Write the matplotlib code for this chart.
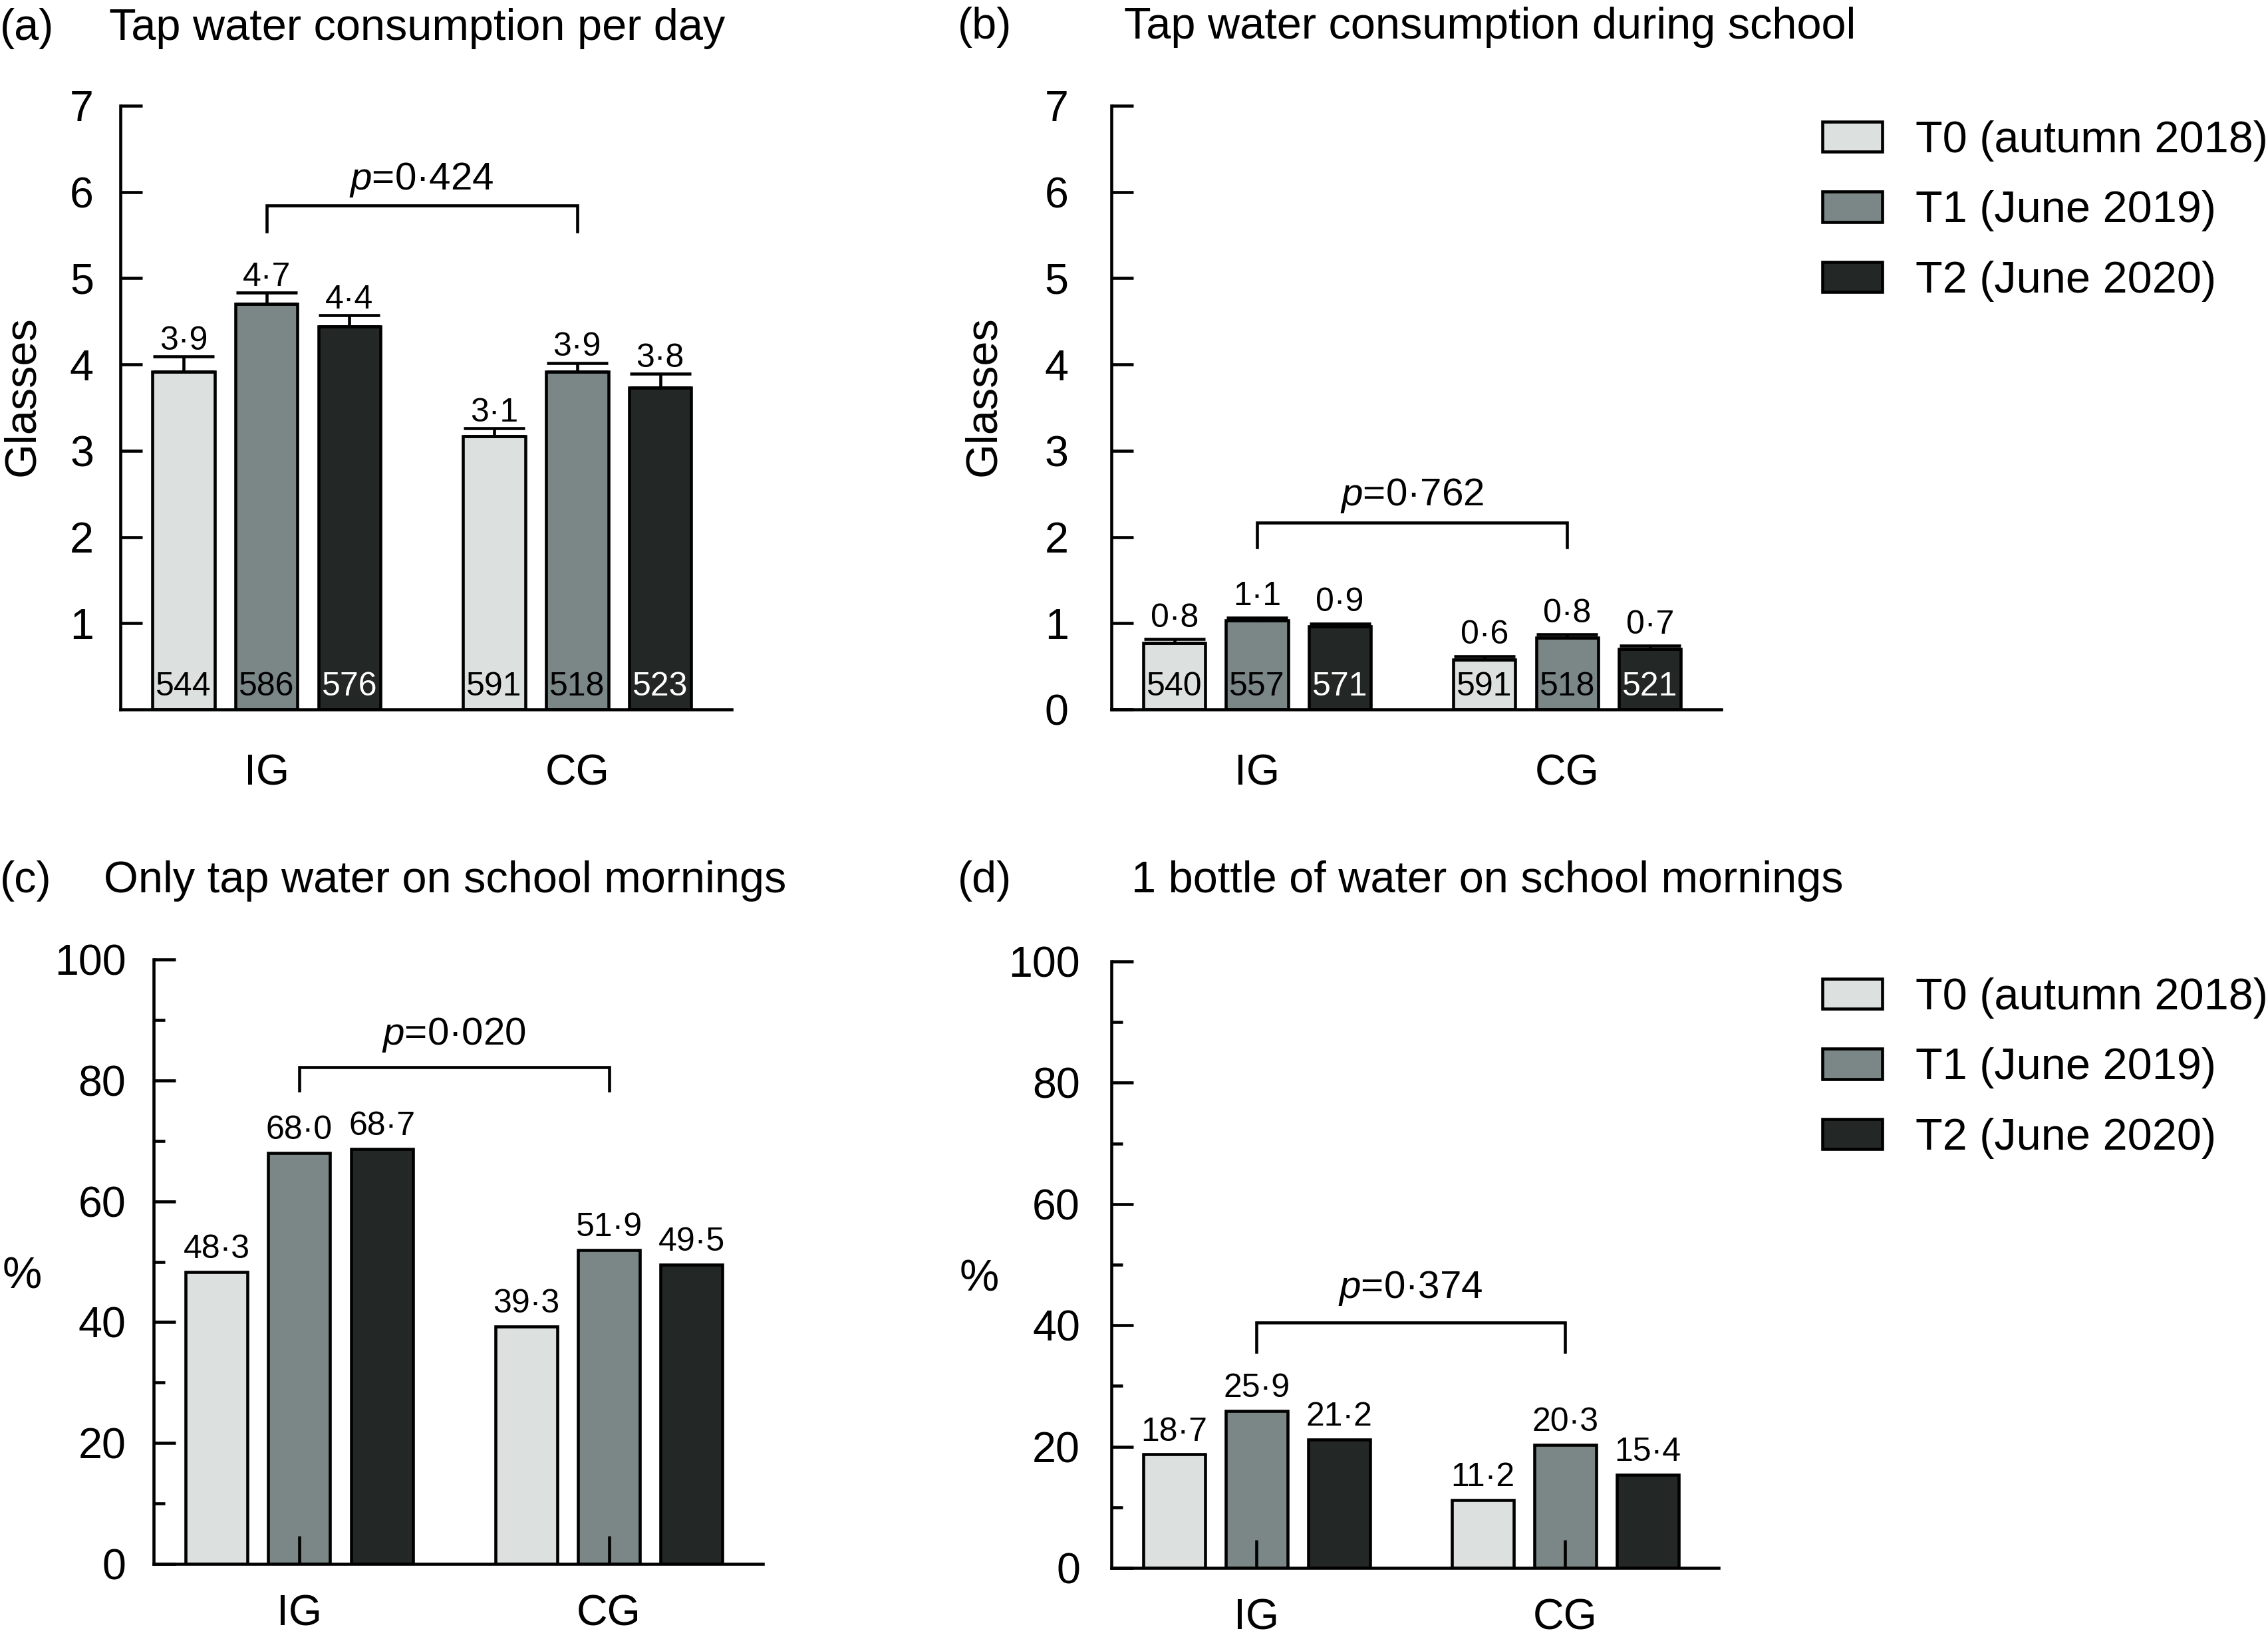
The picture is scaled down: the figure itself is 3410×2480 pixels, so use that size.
import matplotlib.pyplot as plt
import numpy as np
from matplotlib.patches import Patch

plt.rcParams['font.family'] = ['Liberation Sans', 'DejaVu Sans']
plt.rcParams['mathtext.fontset'] = 'custom'
plt.rcParams['mathtext.rm'] = 'Liberation Sans'
plt.rcParams['mathtext.it'] = 'Liberation Sans:italic'

GROUPS = ["IG", "CG"]
WAVES = ["T0 (autumn 2018)", "T1 (June 2019)", "T2 (June 2020)"]
COLORS = ["#dce1e0", "#7a8786", "#232827"]
COUNT_COLORS = ["black", "black", "white"]

# rows = wave (T0, T1, T2), columns = group (IG, CG)
DAY_MEAN = [[3.92, 3.17], [4.70, 3.92], [4.44, 3.73]]
DAY_ERR = [[0.17, 0.09], [0.13, 0.10], [0.13, 0.16]]
DAY_LABELS = [["3·9", "3·1"], ["4·7", "3·9"], ["4·4", "3·8"]]
DAY_N = [[544, 591], [586, 518], [576, 523]]

SCHOOL_MEAN = [[0.77, 0.58], [1.03, 0.83], [0.96, 0.70]]
SCHOOL_ERR = [[0.045, 0.038], [0.033, 0.039], [0.034, 0.038]]
SCHOOL_LABELS = [["0·8", "0·6"], ["1·1", "0·8"], ["0·9", "0·7"]]
SCHOOL_N = [[540, 591], [557, 518], [571, 521]]

ONLY_TAP = [[48.3, 39.3], [68.0, 51.9], [68.7, 49.5]]
ONE_BOTTLE = [[18.7, 11.2], [25.9, 20.3], [21.2, 15.4]]

P_VALUES = ["0·424", "0·762", "0·020", "0·374"]

W, H = 3411, 2480
OFFSET = 0.267
BAR_W = 0.2
LW = 1.1


def fmt(v):
    return f"{v:.1f}".replace(".", "·")


def draw_bars(ax, means, errs=None, labels=None, counts=None, label_pad=5):
    x = np.arange(len(GROUPS))
    for i in range(3):
        xi = x + (i - 1) * OFFSET
        kw = {}
        if errs is not None:
            kw = dict(yerr=[np.zeros(len(GROUPS)), errs[i]],
                      error_kw=dict(ecolor="black", elinewidth=LW, capsize=11, capthick=LW))
        ax.bar(xi, means[i], BAR_W, color=COLORS[i], edgecolor="black", linewidth=LW, **kw)
        for j in range(len(GROUPS)):
            top = means[i][j] + (errs[i][j] if errs is not None else 0)
            txt = labels[i][j] if labels is not None else fmt(means[i][j])
            ax.annotate(txt, (xi[j], top), xytext=(0, label_pad), textcoords="offset points",
                        ha="center", va="baseline", fontsize=12)
            if counts is not None:
                ax.annotate(str(counts[i][j]), (xi[j], 0), xytext=(0, 5), textcoords="offset points",
                            ha="center", va="baseline", fontsize=12, color=COUNT_COLORS[i])


def bracket(ax, leg, top, ty, p):
    ax.plot([0, 0, 1, 1], [leg, top, top, leg], color="black", lw=LW, solid_joinstyle="miter")
    ax.text(0.5, ty, f"$p$=" + p, ha="center", va="baseline", fontsize=14)


def style(ax, ylim, yticks, ypad, xpad, xticks_in, minor=None):
    ax.set_xlim(-0.47, 1.497)
    ax.set_ylim(*ylim)
    ax.set_yticks(yticks)
    if minor is not None:
        ax.set_yticks(minor, minor=True)
    ax.set_xticks(range(len(GROUPS)))
    ax.set_xticklabels(GROUPS)
    for s in ["top", "right"]:
        ax.spines[s].set_visible(False)
    for s in ["left", "bottom"]:
        ax.spines[s].set_linewidth(LW)
    ax.tick_params(axis="y", which="major", direction="in", length=7.9, width=LW, labelsize=15.5, pad=ypad)
    ax.tick_params(axis="y", which="minor", direction="in", length=4, width=LW)
    if xticks_in:
        ax.tick_params(axis="x", direction="in", length=10, width=LW, labelsize=15.5, pad=xpad)
    else:
        ax.tick_params(axis="x", length=0, labelsize=15.5, pad=xpad)


def legend(ax, fig, y):
    handles = [Patch(facecolor=c, edgecolor="black", linewidth=LW, label=w) for c, w in zip(COLORS, WAVES)]
    ax.legend(handles=handles, loc="upper left", bbox_to_anchor=(0.8033, y), bbox_transform=fig.transFigure,
              frameon=False, fontsize=16, handlelength=1.35, handleheight=0.67, handletextpad=0.75,
              labelspacing=0.65, borderpad=0, borderaxespad=0)


fig = plt.figure(figsize=(W / 300, H / 300), dpi=300)

ax_a = fig.add_axes([181 / W, 1 - 1067 / H, 919 / W, 908 / H])
ax_b = fig.add_axes([1671 / W, 1 - 1067 / H, 917 / W, 908 / H])
ax_c = fig.add_axes([231 / W, 1 - 2352 / H, 916 / W, 909 / H])
ax_d = fig.add_axes([1671 / W, 1 - 2358 / H, 913 / W, 912 / H])

# (a)
draw_bars(ax_a, DAY_MEAN, DAY_ERR, DAY_LABELS, DAY_N, label_pad=2.5)
bracket(ax_a, 5.54, 5.84, 6.03, P_VALUES[0])
style(ax_a, (0, 7), range(1, 8), 9.6, 16, False)
ax_a.set_ylabel("Glasses", fontsize=16, va="center", ha="center")
ax_a.yaxis.set_label_coords(-0.160, 0.519)

# (b)
draw_bars(ax_b, SCHOOL_MEAN, SCHOOL_ERR, SCHOOL_LABELS, SCHOOL_N, label_pad=4.5)
bracket(ax_b, 1.88, 2.17, 2.37, P_VALUES[1])
style(ax_b, (0, 7), range(0, 8), 15.4, 16, False)
ax_b.set_ylabel("Glasses", fontsize=16, va="center", ha="center")
ax_b.yaxis.set_label_coords(-0.209, 0.519)
legend(ax_b, fig, 0.927)

# (c)
draw_bars(ax_c, ONLY_TAP, label_pad=5)
bracket(ax_c, 78.3, 82.2, 85.9, P_VALUES[2])
style(ax_c, (0, 100), range(0, 101, 20), 10, 11, True, minor=range(10, 100, 20))
ax_c.set_ylabel("%", fontsize=16, rotation=0, ha="center", va="center")
ax_c.yaxis.set_label_coords(-0.216, 0.475)

# (d)
draw_bars(ax_d, ONE_BOTTLE, label_pad=5)
bracket(ax_d, 35.6, 40.5, 44.5, P_VALUES[3])
style(ax_d, (0, 100), range(0, 101, 20), 11.3, 11, True, minor=range(10, 100, 20))
ax_d.set_ylabel("%", fontsize=16, rotation=0, ha="center", va="center")
ax_d.yaxis.set_label_coords(-0.218, 0.475)
legend(ax_d, fig, 0.4072)

titles = [
    ("(a)", 0.0, 0.9758, "Tap water consumption per day", 164 / W),
    ("(b)", 1440 / W, 0.9766, "Tap water consumption during school", 1690 / W),
    ("(c)", 0.0, 0.4589, "Only tap water on school mornings", 156 / W),
    ("(d)", 1440 / W, 0.4589, "1 bottle of water on school mornings", 1701 / W),
]
for tag, tx, ty, title, x2 in titles:
    fig.text(tx, ty, tag, fontsize=16, va="baseline", ha="left")
    fig.text(x2, ty, title, fontsize=16, va="baseline", ha="left")

fig.savefig("out.png", dpi=300)
